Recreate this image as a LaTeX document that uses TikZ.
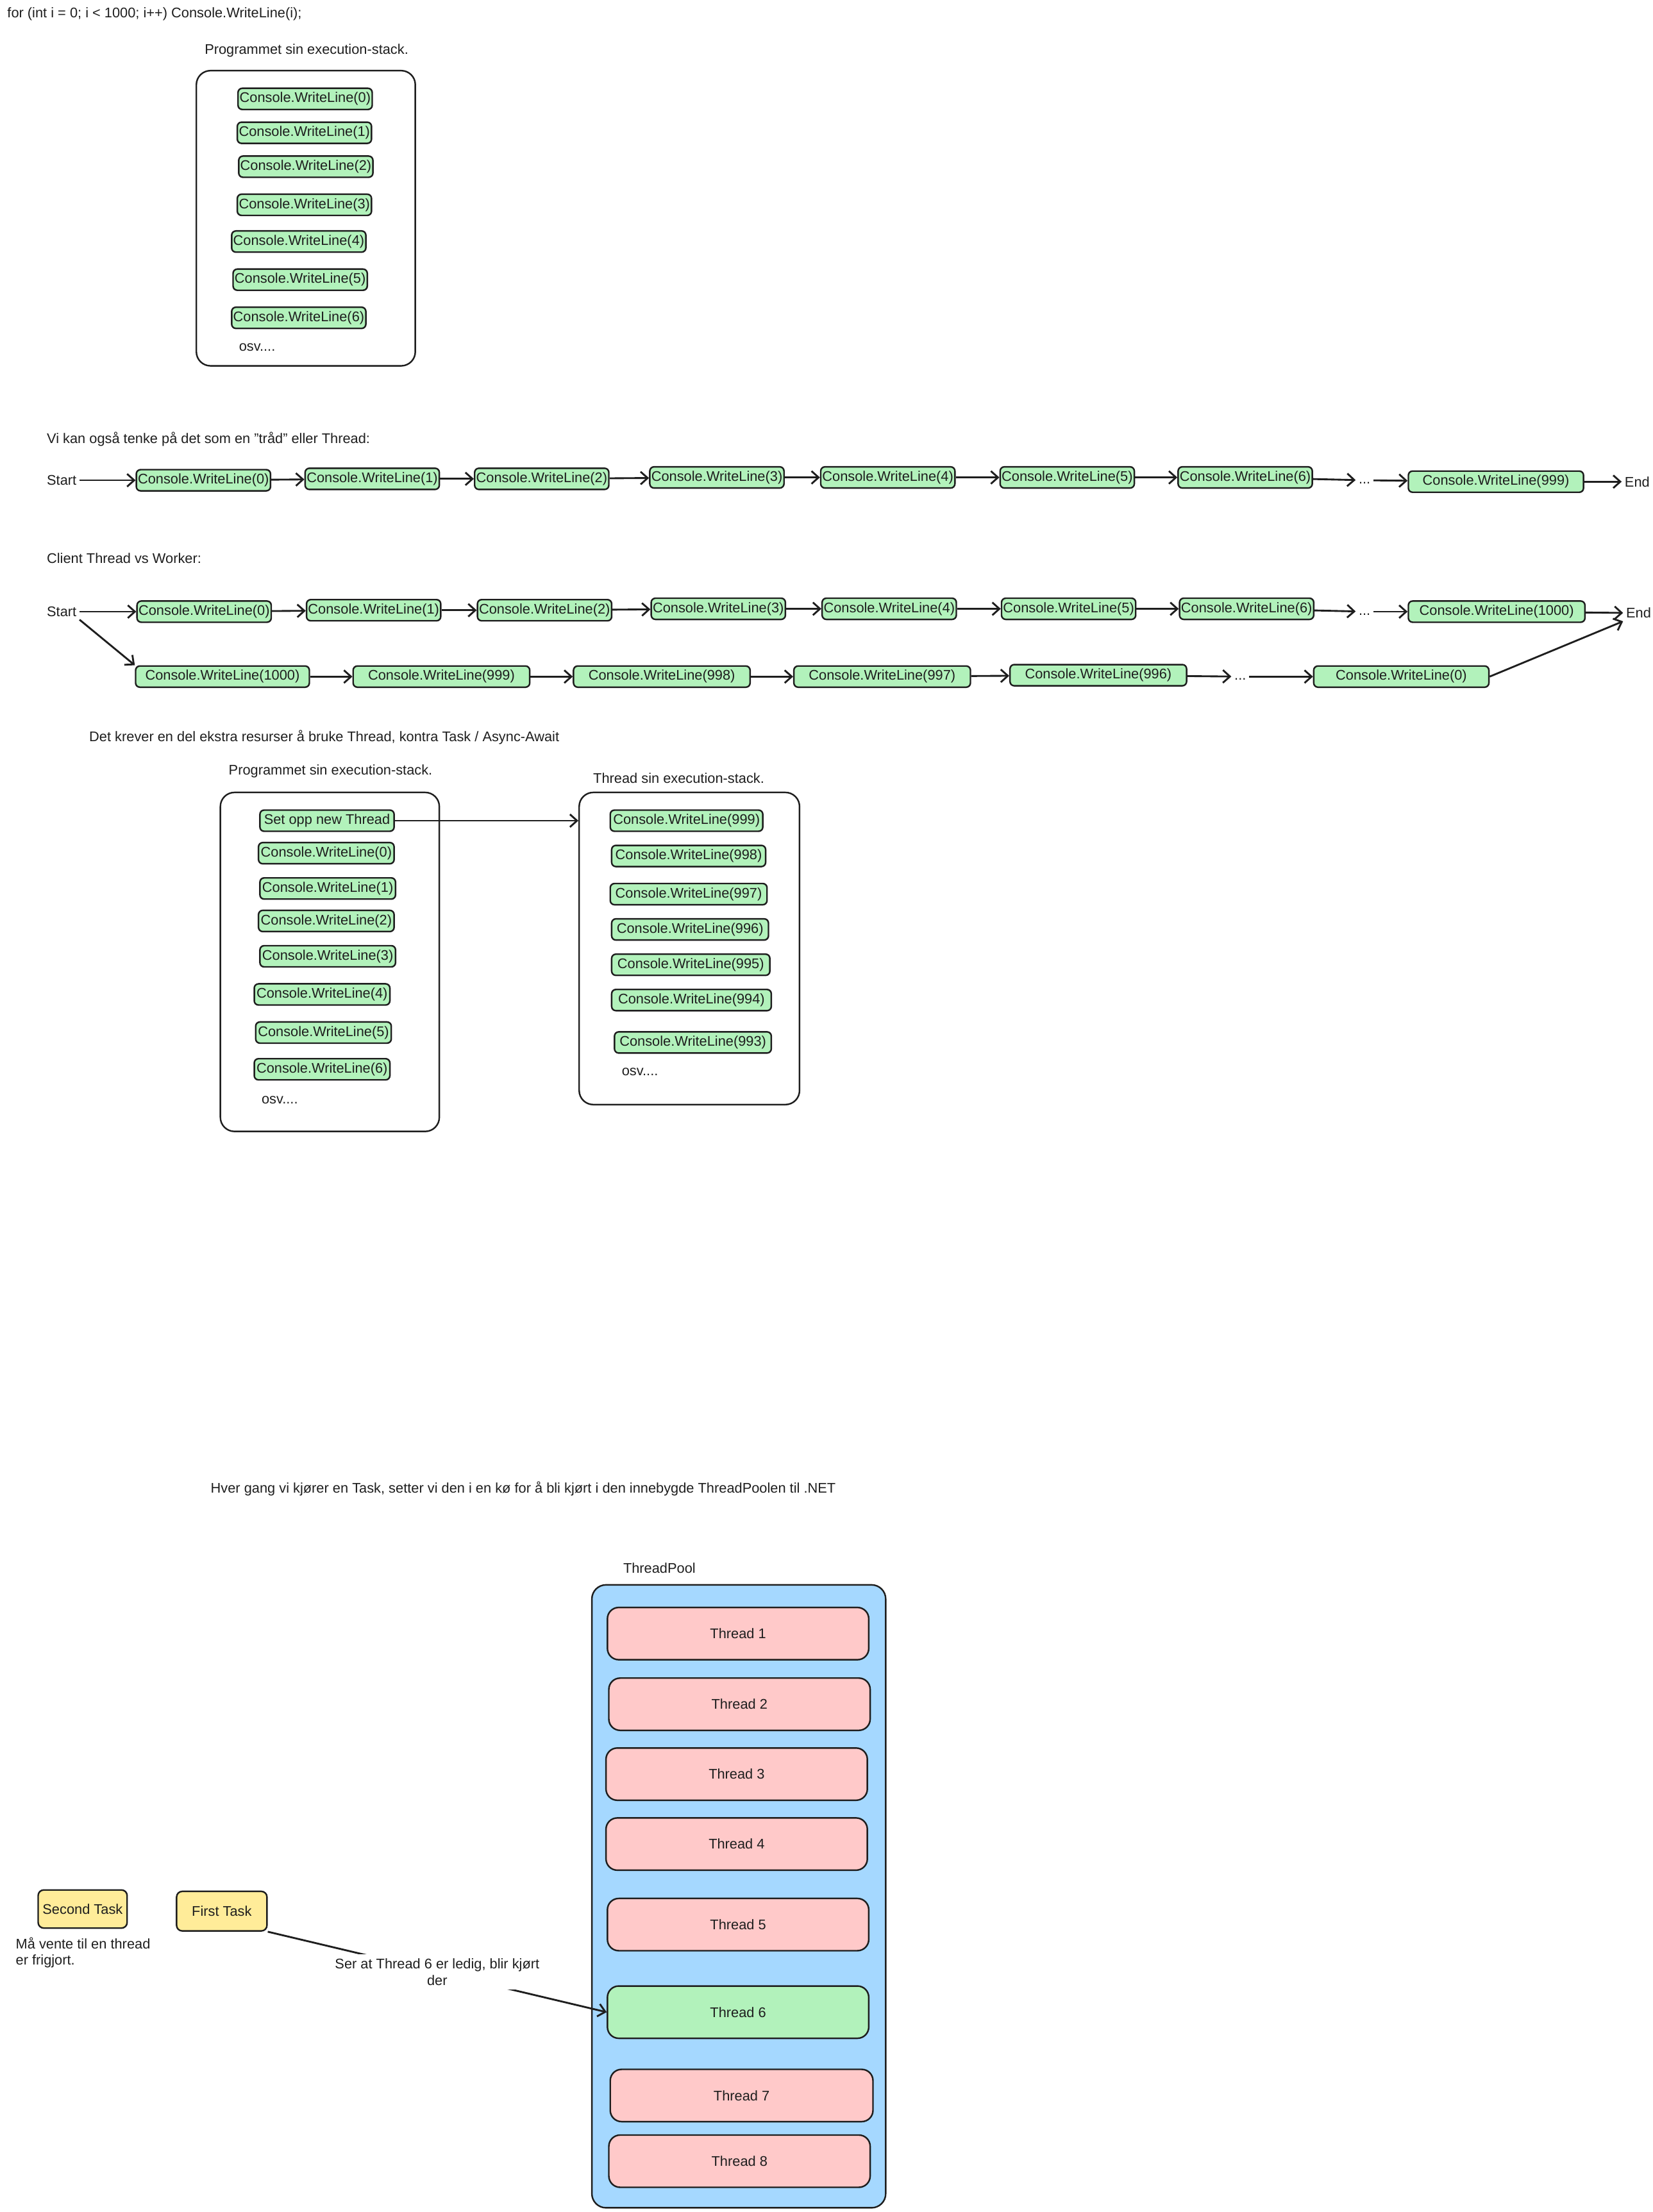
\documentclass[tikz,border=0pt]{standalone}
\usepackage{fontspec}
\setmainfont{Liberation Sans}
\usetikzlibrary{arrows.meta}
\definecolor{ink}{HTML}{1E1E1E}
\definecolor{callgreen}{HTML}{B2F2BB}
\definecolor{poolblue}{HTML}{A5D8FF}
\definecolor{threadred}{HTML}{FFC9C9}
\definecolor{taskyellow}{HTML}{FFEC99}
\tikzset{
callbox/.style={draw=ink,fill=callgreen,line width=1.1pt,rounded corners=3pt,minimum width=95pt,minimum height=15pt,inner xsep=1pt,inner ysep=1pt},
stackbox/.style={draw=ink,line width=1.1pt,rounded corners=10pt},
threadbox/.style={draw=ink,fill=threadred,line width=1.1pt,rounded corners=8pt,minimum width=185pt,minimum height=37pt},
taskbox/.style={draw=ink,fill=taskyellow,line width=1.1pt,rounded corners=4pt,minimum width=63pt,minimum height=27pt,inner xsep=1pt},
txt/.style={inner sep=2pt},
arr/.style={draw=ink,line width=1.3pt,-{Straight Barb[length=5pt,width=9pt]}}
}
\begin{document}
\begin{tikzpicture}[x=1pt,y=-1pt,font=\fontsize{9.9}{11.5}\selectfont,text=ink]
\useasboundingbox (0,0) rectangle (1170,1566);
\node[txt,anchor=west] (code) at (3,10) {for (int i = 0; i < 1000; i++) Console.WriteLine(i);};

\node[txt] (ps1) at (217,36) {Programmet sin execution-stack.};
\node[stackbox,minimum width=155pt,minimum height=209pt] (st1) at (216.5,154.5) {};
\node[callbox] (k0) at (216,70) {Console.WriteLine(0)};
\node[callbox] (k1) at (215.5,94) {Console.WriteLine(1)};
\node[callbox] (k2) at (216.5,118) {Console.WriteLine(2)};
\node[callbox] (k3) at (215.5,145) {Console.WriteLine(3)};
\node[callbox] (k4) at (211.5,171) {Console.WriteLine(4)};
\node[callbox] (k5) at (212.5,198) {Console.WriteLine(5)};
\node[callbox] (k6) at (211.5,225) {Console.WriteLine(6)};
\node[txt,anchor=west] (osv1) at (167,246) {osv....};

\node[txt,anchor=west] (vi) at (31,311) {Vi kan også tenke på det som en "tråd" eller Thread:};
\node[txt,anchor=west] (s1) at (31,340) {Start};
\node[callbox] (a0) at (144,340) {Console.WriteLine(0)};
\node[callbox] (a1) at (263.5,339) {Console.WriteLine(1)};
\node[callbox] (a2) at (383.5,339) {Console.WriteLine(2)};
\node[callbox] (a3) at (507.5,338) {Console.WriteLine(3)};
\node[callbox] (a4) at (628.5,338) {Console.WriteLine(4)};
\node[callbox] (a5) at (755.5,338) {Console.WriteLine(5)};
\node[callbox] (a6) at (881.5,338) {Console.WriteLine(6)};
\node[txt] (a7) at (966,340) {\strut...};
\node[callbox,minimum width=124pt] (a8) at (1059,341) {Console.WriteLine(999)};
\node[txt,anchor=west] (e1) at (1148,341) {End};
\draw[arr] (s1) -- (a0);
\draw[arr] (a0) -- (a1);
\draw[arr] (a1) -- (a2);
\draw[arr] (a2) -- (a3);
\draw[arr] (a3) -- (a4);
\draw[arr] (a4) -- (a5);
\draw[arr] (a5) -- (a6);
\draw[arr] (a6) -- (a7);
\draw[arr] (a7) -- (a8);
\draw[arr] (a8) -- (e1);

\node[txt,anchor=west] (cl) at (31,395) {Client Thread vs Worker:};
\node[txt,anchor=west] (s2) at (31,433) {Start};
\node[callbox] (b0) at (144.5,433) {Console.WriteLine(0)};
\node[callbox] (b1) at (264.5,432) {Console.WriteLine(1)};
\node[callbox] (b2) at (385.5,432) {Console.WriteLine(2)};
\node[callbox] (b3) at (508.5,431) {Console.WriteLine(3)};
\node[callbox] (b4) at (629.5,431) {Console.WriteLine(4)};
\node[callbox] (b5) at (756.5,431) {Console.WriteLine(5)};
\node[callbox] (b6) at (882.5,431) {Console.WriteLine(6)};
\node[txt] (b7) at (966,433) {\strut...};
\node[callbox,minimum width=125pt] (b8) at (1059.5,433) {Console.WriteLine(1000)};
\node[txt,anchor=west] (e2) at (1149,434) {End};
\node[callbox,minimum width=123pt] (d0) at (157.5,479) {Console.WriteLine(1000)};
\node[callbox,minimum width=125pt] (d1) at (312.5,479) {Console.WriteLine(999)};
\node[callbox,minimum width=125pt] (d2) at (468.5,479) {Console.WriteLine(998)};
\node[callbox,minimum width=125pt] (d3) at (624.5,479) {Console.WriteLine(997)};
\node[callbox,minimum width=125pt] (d4) at (777.5,478) {Console.WriteLine(996)};
\node[txt] (d5) at (878,479) {\strut...};
\node[callbox,minimum width=124pt] (d6) at (992,479) {Console.WriteLine(0)};
\draw[arr] (s2) -- (b0);
\draw[arr] (b0) -- (b1);
\draw[arr] (b1) -- (b2);
\draw[arr] (b2) -- (b3);
\draw[arr] (b3) -- (b4);
\draw[arr] (b4) -- (b5);
\draw[arr] (b5) -- (b6);
\draw[arr] (b6) -- (b7);
\draw[arr] (b7) -- (b8);
\draw[arr] (b8) -- (e2);
\draw[arr] (s2.south east) -- (d0.north west);
\draw[arr] (d0) -- (d1);
\draw[arr] (d1) -- (d2);
\draw[arr] (d2) -- (d3);
\draw[arr] (d3) -- (d4);
\draw[arr] (d4) -- (d5);
\draw[arr] (d5) -- (d6);
\draw[arr] (d6.east) -- (e2.south west);

\node[txt,anchor=west] (det) at (61,522) {Det krever en del ekstra resurser å bruke Thread, kontra Task / Async-Await};
\node[txt] (ps2) at (234,546) {Programmet sin execution-stack.};
\node[txt] (ts2) at (480.5,551) {Thread sin execution-stack.};
\node[stackbox,minimum width=155pt,minimum height=240pt] (st2) at (233.5,681) {};
\node[stackbox,minimum width=156pt,minimum height=221pt] (st3) at (488,671.5) {};
\node[callbox] (nt) at (231.5,581) {Set opp new Thread};
\node[callbox,minimum width=96pt] (m0) at (231,604) {Console.WriteLine(0)};
\node[callbox,minimum width=96pt] (m1) at (232,629) {Console.WriteLine(1)};
\node[callbox,minimum width=96pt] (m2) at (231,652) {Console.WriteLine(2)};
\node[callbox,minimum width=96pt] (m3) at (232,677) {Console.WriteLine(3)};
\node[callbox,minimum width=96pt] (m4) at (228,704) {Console.WriteLine(4)};
\node[callbox,minimum width=96pt] (m5) at (229,731) {Console.WriteLine(5)};
\node[callbox,minimum width=96pt] (m6) at (228,757) {Console.WriteLine(6)};
\node[txt,anchor=west] (osv2) at (183,779) {osv....};
\node[callbox,minimum width=108pt] (w0) at (486,581) {Console.WriteLine(999)};
\node[callbox,minimum width=109pt] (w1) at (487.5,606) {Console.WriteLine(998)};
\node[callbox,minimum width=111pt] (w2) at (487.5,633) {Console.WriteLine(997)};
\node[callbox,minimum width=111pt] (w3) at (488.5,658) {Console.WriteLine(996)};
\node[callbox,minimum width=112pt] (w4) at (489,683) {Console.WriteLine(995)};
\node[callbox,minimum width=113pt] (w5) at (489.5,708) {Console.WriteLine(994)};
\node[callbox,minimum width=111pt] (w6) at (490.5,738) {Console.WriteLine(993)};
\node[txt,anchor=west] (osv3) at (438,759) {osv....};
\draw[arr] (nt.east) -- (nt.east -| st3.west);

\node[txt,anchor=west] (hv) at (147,1054) {Hver gang vi kjører en Task, setter vi den i en kø for å bli kjørt i den innebygde ThreadPoolen til .NET};
\node[txt,anchor=west] (tp) at (439,1110) {ThreadPool};
\node[stackbox,fill=poolblue,minimum width=208pt,minimum height=441pt] (pool) at (523,1342.5) {};
\node[threadbox] (t1) at (522.5,1156.5) {Thread 1};
\node[threadbox] (t2) at (523.5,1206.5) {Thread 2};
\node[threadbox] (t3) at (521.5,1256) {Thread 3};
\node[threadbox] (t4) at (521.5,1305.5) {Thread 4};
\node[threadbox] (t5) at (522.5,1362.5) {Thread 5};
\node[threadbox,fill=callgreen] (t6) at (522.5,1424.5) {Thread 6};
\node[threadbox,minimum width=186pt] (t7) at (525,1483.5) {Thread 7};
\node[threadbox] (t8) at (523.5,1530) {Thread 8};
\node[taskbox] (sk) at (58.5,1351.5) {Second Task};
\node[taskbox,minimum width=64pt,minimum height=28pt] (fk) at (157,1353) {First Task};
\node[txt,anchor=west,align=left] (mv) at (9,1382.5) {Må vente til en thread\\er frigjort.};
\draw[arr] (fk.south east) -- node[midway,fill=white,align=center,inner sep=3pt] (se) {Ser at Thread 6 er ledig, blir kjørt\\der} (t6.west);

\end{tikzpicture}
\end{document}
